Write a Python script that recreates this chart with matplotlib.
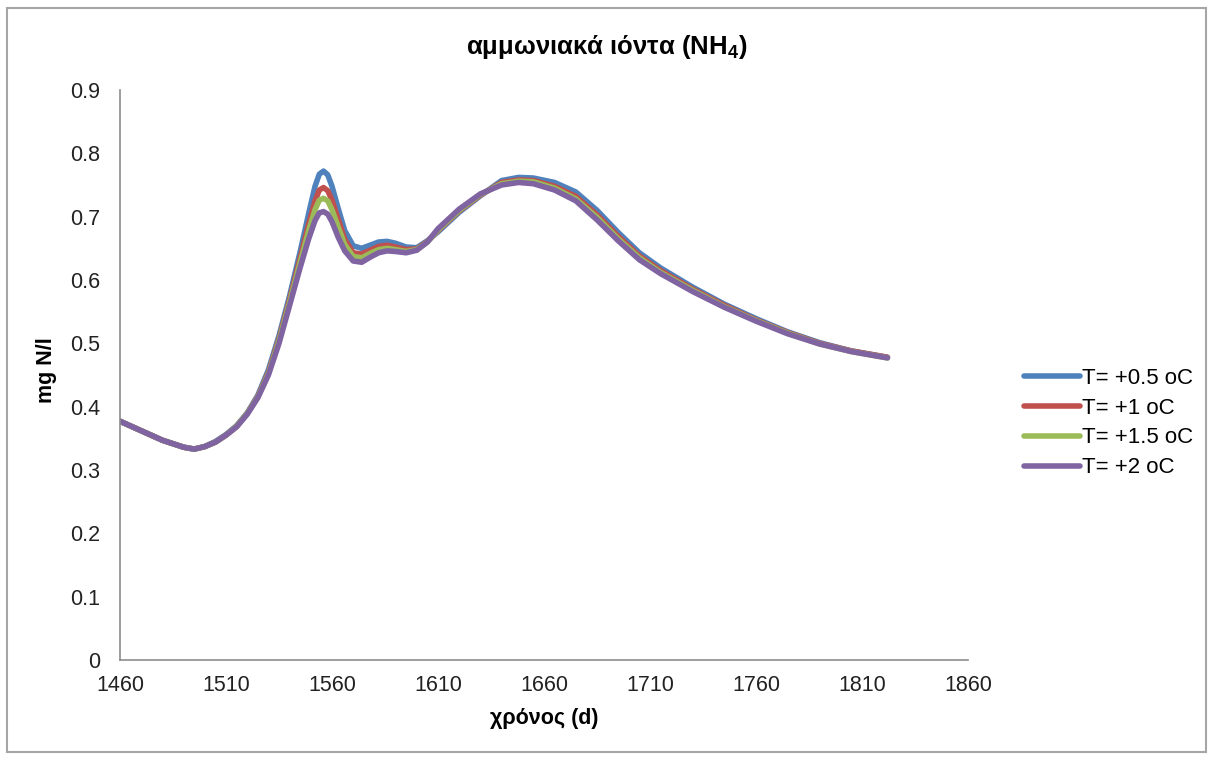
import matplotlib
matplotlib.use("Agg")
import matplotlib.pyplot as plt
from matplotlib.patches import Rectangle

plt.rcParams['font.family'] = ['Liberation Sans', 'DejaVu Sans']
plt.rcParams['mathtext.fontset'] = 'custom'
plt.rcParams['mathtext.rm'] = 'Liberation Sans'
plt.rcParams['mathtext.bf'] = 'Liberation Sans:bold'

days = [1460, 1470, 1480, 1490, 1495, 1500, 1505, 1510, 1515, 1520, 1525, 1530, 1535,
        1540, 1545, 1549, 1552, 1554, 1556, 1558, 1560, 1563, 1566, 1570, 1574, 1578,
        1582, 1586, 1590, 1595, 1600, 1605, 1610, 1620, 1630, 1640, 1648, 1655, 1665,
        1675, 1685, 1695, 1705, 1715, 1730, 1745, 1760, 1775, 1790, 1805, 1822]

t05 = [0.377, 0.362, 0.347, 0.336, 0.333, 0.337, 0.345, 0.356, 0.370, 0.390, 0.418, 0.458, 0.512,
       0.575, 0.645, 0.705, 0.748, 0.767, 0.772, 0.766, 0.748, 0.712, 0.678, 0.654, 0.650, 0.655,
       0.660, 0.661, 0.658, 0.652, 0.651, 0.662, 0.676, 0.707, 0.733, 0.757, 0.762, 0.761, 0.754,
       0.739, 0.710, 0.675, 0.643, 0.619, 0.589, 0.562, 0.539, 0.518, 0.501, 0.488, 0.478]

t10 = [0.377, 0.362, 0.347, 0.336, 0.333, 0.337, 0.344, 0.355, 0.369, 0.389, 0.416, 0.454, 0.507,
       0.569, 0.635, 0.688, 0.725, 0.742, 0.746, 0.741, 0.726, 0.695, 0.664, 0.643, 0.641, 0.647,
       0.653, 0.655, 0.652, 0.648, 0.649, 0.661, 0.678, 0.709, 0.734, 0.754, 0.758, 0.757, 0.748,
       0.732, 0.703, 0.669, 0.638, 0.615, 0.586, 0.560, 0.537, 0.517, 0.500, 0.488, 0.478]

t15 = [0.377, 0.362, 0.347, 0.336, 0.333, 0.337, 0.344, 0.355, 0.369, 0.389, 0.415, 0.452, 0.504,
       0.565, 0.628, 0.678, 0.711, 0.726, 0.729, 0.725, 0.711, 0.683, 0.656, 0.637, 0.635, 0.642,
       0.648, 0.650, 0.648, 0.645, 0.648, 0.660, 0.679, 0.710, 0.735, 0.752, 0.756, 0.755, 0.745,
       0.728, 0.699, 0.665, 0.635, 0.612, 0.584, 0.558, 0.536, 0.516, 0.499, 0.487, 0.477]

t20 = [0.377, 0.362, 0.347, 0.336, 0.333, 0.337, 0.344, 0.355, 0.368, 0.388, 0.414, 0.450, 0.500,
       0.560, 0.620, 0.665, 0.694, 0.706, 0.708, 0.704, 0.692, 0.667, 0.646, 0.630, 0.628, 0.636,
       0.643, 0.646, 0.645, 0.643, 0.647, 0.660, 0.681, 0.712, 0.736, 0.750, 0.754, 0.752, 0.742,
       0.725, 0.695, 0.662, 0.632, 0.610, 0.582, 0.557, 0.535, 0.515, 0.499, 0.487, 0.477]

series = [t05, t10, t15, t20]
labels = ['T= +0.5 oC', 'T= +1 oC', 'T= +1.5 oC', 'T= +2 oC']
colors = ['#4F81BD', '#C0504D', '#9BBB59', '#8064A2']

xticks = [1460, 1510, 1560, 1610, 1660, 1710, 1760, 1810, 1860]
yticks = [0, 0.1, 0.2, 0.3, 0.4, 0.5, 0.6, 0.7, 0.8, 0.9]
ytick_labels = ['0', '0.1', '0.2', '0.3', '0.4', '0.5', '0.6', '0.7', '0.8', '0.9']

W, H = 1213, 760
fig = plt.figure(figsize=(W / 100, H / 100), dpi=100)
ax = fig.add_axes([120 / W, 1 - 660 / H, 848 / W, 570 / H])

for vals, lab, col in zip(series, labels, colors):
    ax.plot(days, vals, color=col, lw=4.0, label=lab, solid_capstyle='round',
            solid_joinstyle='round')

ax.set_xlim(1460, 1860)
ax.set_ylim(0, 0.9)
ax.set_xticks(xticks)
ax.set_xticklabels([str(t) for t in xticks])
ax.set_yticks(yticks)
ax.set_yticklabels(ytick_labels)
ax.tick_params(axis='both', length=0, labelsize=15.5, colors='#222222')
ax.tick_params(axis='x', pad=11)
ax.tick_params(axis='y', pad=14)
for s in ['top', 'right']:
    ax.spines[s].set_visible(False)
for s in ['left', 'bottom']:
    ax.spines[s].set_color('#8c8c8c')
    ax.spines[s].set_linewidth(1.2)

ax.set_xlabel('χρόνος (d)', fontsize=15.5, fontweight='bold')
ax.set_ylabel('mg N/l', fontsize=15.5, fontweight='bold')
ax.yaxis.set_label_coords(57 / W, 1 - 370 / H, transform=fig.transFigure)
ax.xaxis.set_label_coords(544 / W, 1 - 708 / H, transform=fig.transFigure)
ax.xaxis.label.set_va('top')

fig.text(0.5, 1 - 47 / H, r'αμμωνιακά ιόντα (NH$_\mathbf{4}$)', ha='center', va='center',
         fontsize=18.5, fontweight='bold')

leg = ax.legend(loc='center left', bbox_to_anchor=(1024 / W, 1 - 423 / H),
                bbox_transform=fig.transFigure, frameon=False, fontsize=16,
                handlelength=2.5, handletextpad=0.12, labelspacing=0.4,
                borderaxespad=0, borderpad=0)

fig.patches.append(Rectangle((7 / W, 8 / H), 1 - 14 / W, 1 - 16 / H,
                             transform=fig.transFigure, fill=False,
                             edgecolor='#a6a6a6', lw=1.5))

fig.savefig('out.png', dpi=100)
